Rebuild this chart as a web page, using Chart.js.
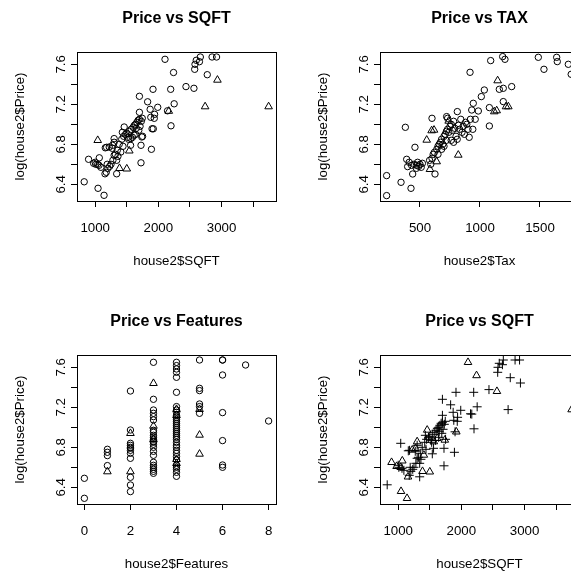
<!DOCTYPE html>
<html><head><meta charset="utf-8">
<script src="https://cdn.jsdelivr.net/npm/chart.js@4/dist/chart.umd.min.js"></script>
<style>
html,body{margin:0;padding:0;background:#fff;}
#wrap{position:relative;width:571px;height:571px;overflow:hidden;background:#fff;}
.panel{position:absolute;width:303px;height:303px;}
canvas{display:block;}
</style></head><body>
<div id="wrap">
<div class="panel" style="left:0;top:0"><canvas id="c1" width="303" height="303"></canvas></div>
<div class="panel" style="left:303px;top:0"><canvas id="c2" width="303" height="303"></canvas></div>
<div class="panel" style="left:0;top:303px"><canvas id="c3" width="303" height="303"></canvas></div>
<div class="panel" style="left:303px;top:303px"><canvas id="c4" width="303" height="303"></canvas></div>
</div>
<script>
// ---- data: square footage vs log(price); corner flag (panel 1 triangles), custom flag (panel 4 triangles)
const sqft = [2105,2240,2580,2575,2600,2650,2664,2850,2921,2774,2935,1915,2195,2437,2563,1700,1830,2250,1990,2740,3745,1870,2145,2165,1700,1940,1935,1880,1900,1920,2200,1750,1725,1890,1725,
  826,1045,1140,895,975,1010,1040,1065,1090,1155,1175,1340,1000,1060,1040,1540,1500,1385,
  1160,1180,1222,1275,1300,1250,1230,1200,1300,1320,1280,1340,1350,1380,1406,1420,1450,1459,1480,1500,1520,1540,1560,1564,1570,1590,1600,1617,1620,1640,1650,1660,1680,1700,1690,1710,1730,1738,1745,1440,1360,1300,1270,1430,1530,1190,1640];
const logPrice = [7.650,7.518,7.600,7.550,7.640,7.626,7.673,7.673,7.673,7.496,7.443,7.350,7.350,7.377,7.360,7.280,7.225,7.205,7.170,7.177,7.177,7.150,7.135,7.132,7.120,7.100,7.060,7.070,6.955,6.955,6.985,6.880,6.790,6.750,6.615,
  6.425,6.360,6.290,6.650,6.610,6.600,6.600,6.665,6.570,6.505,6.520,6.505,6.620,6.590,6.840,6.735,6.555,6.560,
  6.765,6.770,6.773,6.790,6.857,6.600,6.580,6.560,6.690,6.700,6.640,6.640,6.740,6.800,6.723,6.850,6.880,6.973,6.900,6.910,6.870,6.930,6.790,6.857,6.950,6.870,6.970,6.890,6.990,7.000,6.960,7.020,7.040,7.050,6.940,6.980,7.030,6.873,7.060,6.780,6.680,6.820,6.760,6.920,6.850,6.600,6.900];
const corner = [0,0,0,0,0,0,0,0,0,0, 1,0,0,0,0,0,0,0,0,1, 1,0,0,1,0,0,0,0,0,0, 0,0,0,0,0,
  0,0,0,0,0,0,0,0,0,0,0,0,0,0,1,1,1,1,
  0,0,0,0,0,0,0,0,0,0, 0,0,0,0,0,0,0,0,0,0, 0,0,0,0,0,0,0,0,0,0, 0,0,0,0,0,0,0,0,0,0, 0,0,0,0,0,0,0];
const custom = [1,1,0,0,0,0,0,0,0,0, 0,0,0,0,1,0,0,0,0,0, 1,0,0,0,0,0,0,0,0,1, 0,0,0,0,0,
  0,1,1,1,1,0,1,1,0,1,0,0,0,0,0,0,1,1,
  0,0,1,1,1,0,0,0,0,0, 0,0,0,0,1,0,0,1,0,0, 0,0,0,1,0,0,0,1,0,0, 0,0,0,0,0,0,0,1,0,0, 0,0,0,0,0,0,0];

// ---- tax vs log(price)
const taxCircle = [1486,1533,1639,1644,1736,1760,1089,1189,1208,917,1161,1194,1264,1036,1011,1078,1194,1078,944,986,931,811,722,600,378,458,389,397,439,222,342,425,222,625,
  450,470,480,490,500,510,520,470,410,430,580,590,600,610,620,640,650,660,670,680,690,700,700,710,720,730,740,750,760,770,780,790,800,810,820,830,840,850,860,870,880,890,900,910,920,940,960,730,760,650,680,720,780];
const taxCirclePrice = [7.67,7.55,7.67,7.627,7.60,7.50,7.637,7.677,7.65,7.52,7.35,7.36,7.377,7.343,7.277,7.167,7.227,6.983,7.21,7.133,7.143,7.127,7.077,7.06,6.97,6.77,6.65,6.577,6.503,6.487,6.42,6.36,6.287,6.503,
  6.60,6.59,6.62,6.58,6.60,6.57,6.61,6.56,6.62,6.59,6.64,6.60,6.66,6.70,6.72,6.75,6.78,6.80,6.82,6.85,6.80,6.88,6.78,6.90,6.84,6.95,6.92,6.98,7.00,6.94,7.03,6.96,6.88,6.85,6.99,6.95,7.05,6.92,6.98,6.90,7.02,7.00,6.95,6.87,7.05,6.95,7.05,7.06,6.84,6.70,6.75,6.93,6.82];
const taxTriangle = [556,597,617,639,583,819,739,1147,1119,1139,1217,1236];
const taxTrianglePrice = [6.843,6.937,6.943,6.627,6.55,6.693,7.033,7.437,7.127,7.137,7.177,7.177];

// ---- features vs log(price)
const featCircle = [0,0, 1,1,1,1,
  2,2,2,2,2,2,2,2,2,2,2,2,
  3,3,3,3,3,3,3,3,3,3,3,3,3,3,3,3,3,3,3,3,3,3,3,
  4,4,4,4,4,4,4,4,4,4,4,4,4,4,4,4,4,4,4,4,4,4,4,4,4,4,4,4,4,4,4,4,4,4,
  5,5,5,5,5,5, 6,6,6,6,6,6,6, 7, 8];
const featCirclePrice = [6.49,6.29, 6.78,6.75,6.717,6.617,
  7.363,6.973,6.84,6.82,6.80,6.79,6.77,6.74,6.69,6.50,6.423,6.357,
  7.65,7.28,7.173,7.14,7.107,7.073,6.97,6.95,6.92,6.90,6.88,6.86,6.85,6.83,6.80,6.76,6.72,6.65,6.62,6.60,6.58,6.56,6.54,
  7.65,7.617,7.583,7.55,7.50,7.35,7.207,7.173,7.15,7.12,7.10,7.08,7.06,7.04,7.02,7.00,6.98,6.96,6.94,6.92,6.90,6.88,6.85,6.82,6.80,6.77,6.74,6.707,6.673,6.62,6.60,6.58,6.55,6.51,
  7.673,7.39,7.367,7.233,7.207,7.14, 7.673,7.673,7.523,7.147,6.867,6.623,6.60, 7.623, 7.063];
const featTriangle = [1,2,2,3,3,3,4,4,4,4,5,5,5];
const featTrianglePrice = [6.557,6.94,6.557,7.44,7.013,6.88,7.18,7.12,6.68,6.64,7.18,6.923,6.733];

// ---- axis ticks
const yTicks = [6.4,6.6,6.8,7.0,7.2,7.4,7.6];
const yTickLabels = ['6.4','','6.8','','7.2','','7.6'];
const sqftTicks = [1000,1500,2000,2500,3000,3500];
const sqftTickLabels = ['1000','','2000','','3000',''];
const taxTicks = [500,1000,1500];
const taxTickLabels = ['500','1000','1500'];
const featTicks = [0,2,4,6,8];
const featTickLabels = ['0','2','4','6','8'];

const FONT = "'Liberation Sans', Arial, Helvetica, sans-serif";
const pts = (xs, ys, keep) => xs.map((x,i)=>({x, y: ys[i], k: keep ? keep(i) : true})).filter(p=>p.k).map(p=>({x:p.x,y:p.y}));

const boxPlugin = {
  id: 'rbox',
  afterDraw(chart){
    const {ctx, chartArea:a} = chart;
    ctx.save();
    ctx.strokeStyle = '#000'; ctx.lineWidth = 1;
    ctx.strokeRect(Math.round(a.left)+0.5, Math.round(a.top)+0.5, Math.round(a.right-a.left), Math.round(a.bottom-a.top));
    ctx.restore();
  }
};

function ds(data, style){
  const base = {data, showLine:false, borderColor:'#000', backgroundColor:'rgba(0,0,0,0)', pointBorderWidth:1, pointBorderColor:'#000', pointBackgroundColor:'rgba(0,0,0,0)'};
  if (style==='circle') return Object.assign(base,{pointStyle:'circle', pointRadius:3.2});
  if (style==='triangle') return Object.assign(base,{pointStyle:'triangle', pointRadius:4.4});
  return Object.assign(base,{pointStyle:'cross', pointRadius:4.5});
}

function panel(id, title, xTitle, xMin, xMax, xTicks, xTickLabels, datasets){
  new Chart(document.getElementById(id), {
    type:'scatter',
    data:{datasets},
    plugins:[boxPlugin],
    options:{
      responsive:false, animation:false, events:[],
      layout:{padding:{top:0,right:27,bottom:0,left:0}},
      plugins:{
        legend:{display:false}, tooltip:{enabled:false},
        title:{display:true, text:title, fullSize:false, color:'#000', font:{family:FONT,size:16,weight:'bold',lineHeight:1.2}, padding:{top:8.9,bottom:23.9}}
      },
      scales:{
        x:{type:'linear', position:'bottom', min:xMin, max:xMax,
          afterFit(s){ s.height = 102; },
          afterBuildTicks(s){ s.ticks = xTicks.map(v=>({value:v})); },
          ticks:{autoSkip:false, minRotation:0, maxRotation:0, padding:13.7, color:'#000', font:{family:FONT,size:13.3}, callback:(v,i)=>xTickLabels[i]},
          grid:{drawOnChartArea:false, drawTicks:true, tickLength:6, color:'#000', lineWidth:1},
          border:{display:false},
          title:{display:true, text:xTitle, color:'#000', font:{family:FONT,size:13.3}, padding:{top:0,bottom:33.6}}
        },
        y:{type:'linear', position:'left', min:6.233, max:7.723,
          afterFit(s){ s.width = 77; },
          afterBuildTicks(s){ s.ticks = yTicks.map(v=>({value:v})); },
          ticks:{autoSkip:false, minRotation:90, maxRotation:90, crossAlign:'center', padding:0, color:'#000', font:{family:FONT,size:13.3}, callback:(v,i)=>yTickLabels[i]},
          grid:{drawOnChartArea:false, drawTicks:true, tickLength:6, color:'#000', lineWidth:1},
          border:{display:false},
          title:{display:true, text:'log(house2$Price)', color:'#000', font:{family:FONT,size:13.3}, padding:{top:12,bottom:0}}
        }
      }
    }
  });
}

panel('c1','Price vs SQFT','house2$SQFT',712,3862,sqftTicks,sqftTickLabels,[
  ds(pts(sqft,logPrice,i=>!corner[i]),'circle'),
  ds(pts(sqft,logPrice,i=>corner[i]),'triangle')
]);
panel('c2','Price vs TAX','house2$Tax',166.7,1825,taxTicks,taxTickLabels,[
  ds(pts(taxCircle,taxCirclePrice),'circle'),
  ds(pts(taxTriangle,taxTrianglePrice),'triangle')
]);
panel('c3','Price vs Features','house2$Features',-0.32,8.32,featTicks,featTickLabels,[
  ds(pts(featCircle,featCirclePrice),'circle'),
  ds(pts(featTriangle,featTrianglePrice),'triangle')
]);
panel('c4','Price vs SQFT','house2$SQFT',712,3862,sqftTicks,sqftTickLabels,[
  ds(pts(sqft,logPrice,i=>!custom[i]),'cross'),
  ds(pts(sqft,logPrice,i=>custom[i]),'triangle')
]);
</script>
</body></html>
